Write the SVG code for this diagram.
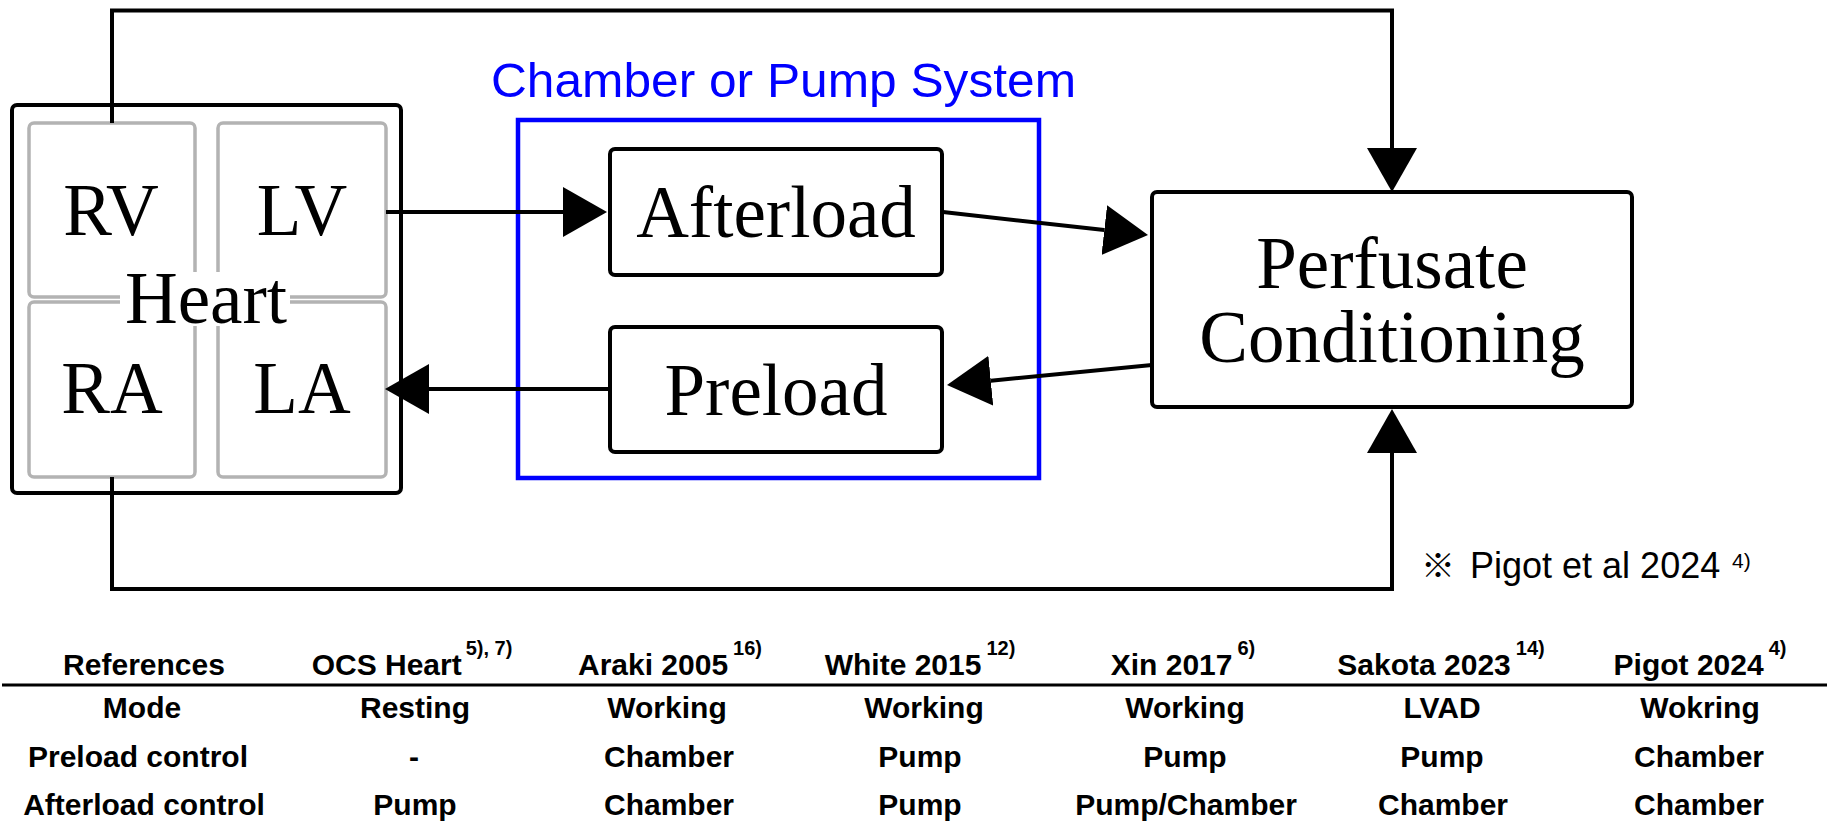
<svg xmlns="http://www.w3.org/2000/svg" width="1831" height="827" viewBox="0 0 1831 827">
<defs>
<marker id="ah" markerUnits="userSpaceOnUse" markerWidth="44" markerHeight="50" viewBox="0 0 44 50" refX="0" refY="25" orient="auto"><path d="M0,0 L44,25 L0,50 Z" fill="#000"/></marker>
</defs>
<style>
.serif{font-family:"Liberation Serif","Times New Roman",serif;font-size:73px;fill:#000;text-anchor:middle}
.box{fill:#fff;stroke:#000;stroke-width:4}
.cham{fill:#fff;stroke:#b3b3b3;stroke-width:3.5}
.conn{fill:none;stroke:#000;stroke-width:4}
.tb{font-family:"Liberation Sans",Arial,sans-serif;font-size:30px;font-weight:bold;fill:#000;text-anchor:middle}
.sup{font-size:20px}
</style>
<rect width="1831" height="827" fill="#fff"/>

<g id="heart">
<rect x="12" y="105" width="389" height="388" rx="5" class="box"/>
<rect x="29" y="123" width="166" height="174" rx="5" class="cham"/>
<rect x="218" y="123" width="168" height="174" rx="5" class="cham"/>
<rect x="29" y="302" width="166" height="175" rx="5" class="cham"/>
<rect x="218" y="302" width="168" height="175" rx="5" class="cham"/>
<text x="111" y="235" class="serif">RV</text>
<text x="302" y="235" class="serif">LV</text>
<text x="112" y="413" class="serif">RA</text>
<text x="302" y="413" class="serif">LA</text>
<rect x="120" y="272" width="170" height="54" fill="#fff"/>
<text x="206" y="323" class="serif">Heart</text>
</g>

<g id="system">
<rect x="518" y="120" width="521" height="358" fill="none" stroke="#0000ff" stroke-width="4.5"/>
<text x="491" y="97" font-family="Liberation Sans, Arial, sans-serif" font-size="49" fill="#0000ff" textLength="585" lengthAdjust="spacingAndGlyphs">Chamber or Pump System</text>
</g>

<g id="afterload">
<rect x="610" y="149" width="332" height="126" rx="5" class="box"/>
<text x="776" y="237" class="serif">Afterload</text>
</g>

<g id="preload">
<rect x="610" y="327" width="332" height="125" rx="5" class="box"/>
<text x="776" y="415" class="serif">Preload</text>
</g>

<g id="perfusate">
<rect x="1152" y="192" width="480" height="215" rx="5" class="box"/>
<text x="1392" y="288" class="serif">Perfusate</text>
<text x="1392" y="362" class="serif">Conditioning</text>
</g>

<g id="connectors">
<line x1="386" y1="212" x2="563" y2="212" class="conn" marker-end="url(#ah)"/>
<line x1="943" y1="212" x2="1104.3" y2="230.1" class="conn" marker-end="url(#ah)"/>
<line x1="1152" y1="365" x2="990.8" y2="380.7" class="conn" marker-end="url(#ah)"/>
<line x1="610" y1="389" x2="429" y2="389" class="conn" marker-end="url(#ah)"/>
<path d="M112,123 V10.5 H1392 V148" class="conn" marker-end="url(#ah)"/>
<path d="M112,477 V589 H1392 V453" class="conn" marker-end="url(#ah)"/>
</g>

<g id="note" font-family="Liberation Sans, Arial, sans-serif" fill="#000">
<text y="578" font-size="36"><tspan x="1421" font-family="Noto Sans CJK JP, DejaVu Sans, sans-serif" font-size="34">※</tspan><tspan x="1470">Pigot et al 2024</tspan><tspan x="1732" y="568" font-size="21">4)</tspan></text>
</g>

<g id="table">
<line x1="2" y1="685" x2="1827" y2="685" stroke="#000" stroke-width="3"/>
<text x="144" y="675" class="tb">References</text>
<text x="412" y="675" class="tb">OCS Heart<tspan dx="4" dy="-20" class="sup">5), 7)</tspan></text>
<text x="670" y="675" class="tb">Araki 2005<tspan dx="5" dy="-20" class="sup">16)</tspan></text>
<text x="920" y="675" class="tb">White 2015<tspan dx="5" dy="-20" class="sup">12)</tspan></text>
<text x="1183" y="675" class="tb">Xin 2017<tspan dx="5" dy="-20" class="sup">6)</tspan></text>
<text x="1441" y="675" class="tb">Sakota 2023<tspan dx="5" dy="-20" class="sup">14)</tspan></text>
<text x="1700" y="675" class="tb">Pigot 2024<tspan dx="5" dy="-20" class="sup">4)</tspan></text>

<text x="142" y="718" class="tb">Mode</text>
<text x="415" y="718" class="tb">Resting</text>
<text x="667" y="718" class="tb">Working</text>
<text x="924" y="718" class="tb">Working</text>
<text x="1185" y="718" class="tb">Working</text>
<text x="1442" y="718" class="tb">LVAD</text>
<text x="1700" y="718" class="tb">Wokring</text>

<text x="138" y="767" class="tb">Preload control</text>
<text x="414" y="767" class="tb">-</text>
<text x="669" y="767" class="tb">Chamber</text>
<text x="920" y="767" class="tb">Pump</text>
<text x="1185" y="767" class="tb">Pump</text>
<text x="1442" y="767" class="tb">Pump</text>
<text x="1699" y="767" class="tb">Chamber</text>

<text x="144" y="815" class="tb">Afterload control</text>
<text x="415" y="815" class="tb">Pump</text>
<text x="669" y="815" class="tb">Chamber</text>
<text x="920" y="815" class="tb">Pump</text>
<text x="1186" y="815" class="tb">Pump/Chamber</text>
<text x="1443" y="815" class="tb">Chamber</text>
<text x="1699" y="815" class="tb">Chamber</text>
</g>
</svg>
